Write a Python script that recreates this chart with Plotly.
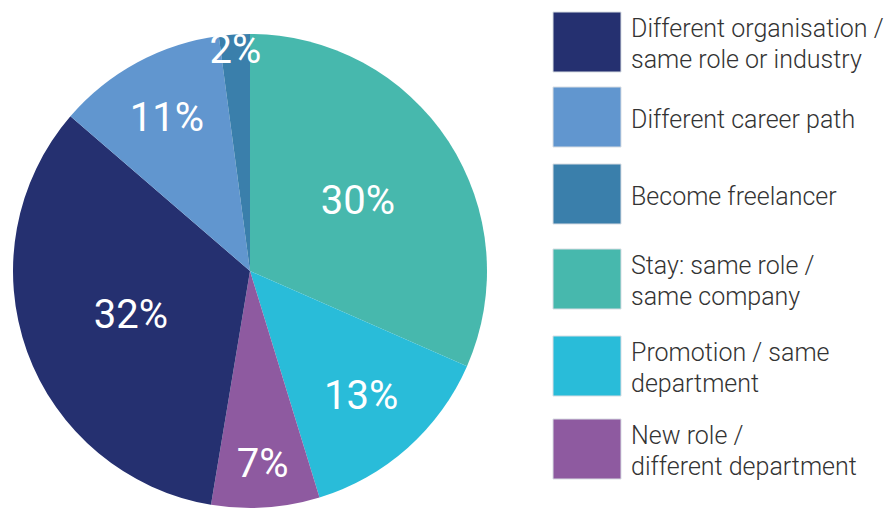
import plotly.graph_objects as go

# Share of respondents by expected next career move (clockwise from 12 o'clock)
pie_labels = [
    "Stay: same role / same company",
    "Promotion / same department",
    "New role / different department",
    "Different organisation / same role or industry",
    "Different career path",
    "Become freelancer",
]
pie_values = [30, 13, 7, 32, 11, 2]
pie_colors = ["#47b8ad", "#29bcd9", "#8e5aa0", "#253070", "#6196cf", "#3a7fab"]

# Legend order and wrapped legend text
legend_order = [3, 4, 5, 0, 1, 2]
legend_lines = {
    0: ["Stay: same role /", "same company"],
    1: ["Promotion / same", "department"],
    2: ["New role /", "different department"],
    3: ["Different organisation /", "same role or industry"],
    4: ["Different career path"],
    5: ["Become freelancer"],
}

W, H = 888, 511
MT, MB = 34, 3
PLOT_H = H - MT - MB


def px_x(x):
    return x / W


def px_y(y):
    return 1 - (y - MT) / PLOT_H


fig = go.Figure(
    go.Pie(
        labels=pie_labels,
        values=pie_values,
        text=[f"{v}%" for v in pie_values],
        textinfo="text",
        textposition="inside",
        insidetextorientation="horizontal",
        insidetextfont=dict(family="Roboto", size=40, color="white"),
        marker=dict(colors=pie_colors, line=dict(width=0)),
        sort=False,
        direction="clockwise",
        rotation=0,
        hoverinfo="label+text",
        domain=dict(x=[0, 500 / W], y=[0, 1]),
        showlegend=False,
    )
)

# Custom legend: large colour swatches with wrapped labels
box_tops = [12, 87, 164, 249, 336, 419]
box_h, box_x0, box_x1 = 60, 553, 621
text_x = 629
line_gap = 31
shapes, annotations = [], []
for row, idx in enumerate(legend_order):
    top = box_tops[row]
    shapes.append(dict(
        type="rect", xref="paper", yref="paper",
        x0=px_x(box_x0), x1=px_x(box_x1),
        y0=px_y(top + box_h), y1=px_y(top),
        fillcolor=pie_colors[idx],
        line=dict(color="#d8dde3", width=1),
        layer="above",
    ))
    lines = legend_lines[idx]
    mid = top + box_h / 2 + 2
    first = mid - (len(lines) - 1) * line_gap / 2
    for k, ln in enumerate(lines):
        annotations.append(dict(
            xref="paper", yref="paper",
            x=px_x(text_x), y=px_y(first + k * line_gap),
            xanchor="left", yanchor="middle",
            text=ln, showarrow=False,
            font=dict(family="Roboto", size=25, color="#333333", weight=300),
        ))

fig.update_layout(
    width=W, height=H,
    margin=dict(l=0, r=0, t=MT, b=MB),
    paper_bgcolor="white",
    plot_bgcolor="white",
    uniformtext=dict(minsize=40, mode="show"),
    shapes=shapes,
    annotations=annotations,
)

fig.write_html("out.html")
